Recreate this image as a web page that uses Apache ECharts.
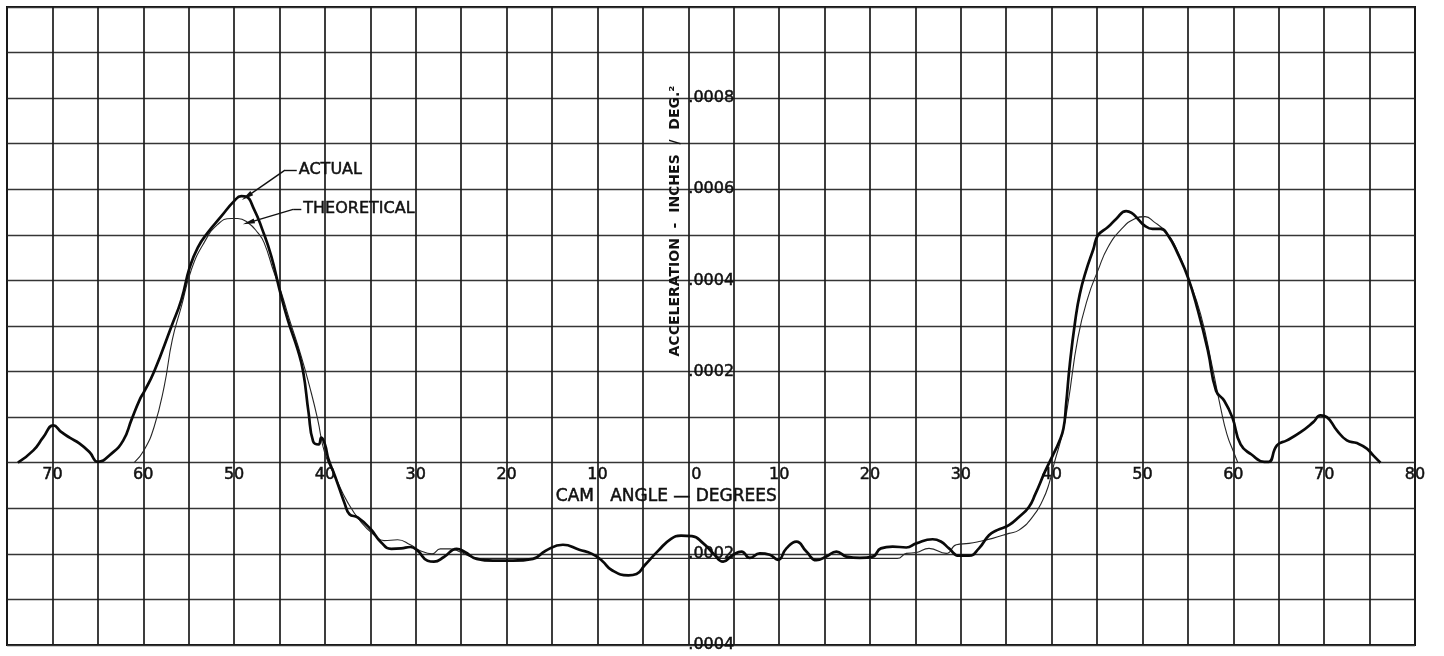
<!DOCTYPE html>
<html>
<head>
<meta charset="utf-8">
<script src="https://cdn.jsdelivr.net/npm/echarts@6/dist/echarts.min.js"></script>
<style>
  html, body { margin: 0; padding: 0; background: #ffffff; }
  #chart { width: 1444px; height: 656px; }
</style>
</head>
<body>
<div id="chart"></div>
<script>
// Cam angle in degrees (negative = before the zero position, labelled by magnitude)
const actualAngle = [
  -73.8, -72.1, -71.0, -69.9, -69.0, -68.1, -67.0, -65.9, -65.0, -63.5, -62.2, -61.3,
  -60.4, -59.9, -58.8, -56.9, -55.8, -54.9, -54.0, -52.9, -51.4, -50.0, -49.2, -48.7,
  -47.8, -46.9, -45.9, -45.0, -44.1, -43.0, -42.4, -41.8, -41.3, -40.7, -40.4, -40.0,
  -39.6, -38.9, -37.8, -37.3, -36.4, -35.0, -33.8, -32.7, -31.6, -30.6, -29.8, -28.7,
  -28.0, -26.9, -25.5, -24.6, -23.3, -21.5, -19.3, -17.1, -15.7, -13.8, -12.0, -10.6,
  -9.5, -8.4, -6.6, -5.7, -4.8, -3.3, -1.9, -0.8, 0.4, 1.65, 2.75, 3.84,
  4.94, 5.86, 6.77, 7.87, 8.97, 9.88, 10.8, 11.9, 13.0, 14.1, 15.2, 16.3,
  17.4, 18.9, 20.3, 21.2, 22.5, 24.0, 25.1, 26.9, 27.8, 28.7, 29.8, 30.9,
  32.0, 33.1, 34.0, 35.3, 36.4, 37.5, 38.2, 39.3, 40.1, 40.8, 41.3, 41.6,
  42.0, 42.6, 43.1, 43.8, 44.6, 45.1, 46.2, 47.1, 48.2, 48.8, 49.5, 50.2,
  51.1, 52.0, 52.8, 53.9, 55.0, 56.1, 57.2, 58.1, 59.0, 59.9, 60.8, 62.0,
  63.4, 63.9, 64.8, 65.9, 67.4, 68.8, 69.6, 70.3, 71.4, 72.5, 73.6, 74.7,
  75.4, 76.2
];
// Measured acceleration, in units of 0.0001 in/deg²
const actualAccel = [
  0.00, 0.27, 0.56, 0.82, 0.67, 0.55, 0.42, 0.23, 0.02, 0.20, 0.49, 0.94,
  1.38, 1.56, 2.00, 2.99, 3.58, 4.28, 4.72, 5.05, 5.41, 5.74, 5.85, 5.84,
  5.56, 5.12, 4.53, 3.80, 3.14, 2.48, 2.00, 1.10, 0.47, 0.40, 0.55, 0.40,
  0.07, -0.29, -0.91, -1.13, -1.20, -1.45, -1.75, -1.89, -1.88, -1.85, -1.93, -2.15,
  -2.17, -2.07, -1.89, -1.96, -2.11, -2.15, -2.15, -2.11, -1.93, -1.80, -1.91, -2.00,
  -2.15, -2.36, -2.47, -2.44, -2.25, -1.93, -1.67, -1.60, -1.61, -1.77, -1.99, -2.17,
  -2.02, -1.95, -2.09, -1.99, -2.02, -2.13, -1.88, -1.73, -1.95, -2.14, -2.06, -1.95,
  -2.06, -2.09, -2.06, -1.88, -1.84, -1.86, -1.77, -1.68, -1.73, -1.88, -2.04, -2.04,
  -1.88, -1.59, -1.48, -1.37, -1.19, -0.97, -0.69, -0.18, 0.15, 0.45, 0.75, 1.30,
  2.16, 3.12, 3.70, 4.22, 4.69, 4.99, 5.17, 5.35, 5.52, 5.48, 5.35, 5.21,
  5.13, 5.13, 4.99, 4.58, 4.07, 3.34, 2.46, 1.58, 1.36, 0.99, 0.40, 0.18,
  0.02, 0.02, 0.38, 0.49, 0.67, 0.89, 1.04, 1.00, 0.71, 0.49, 0.43, 0.31,
  0.16, 0.00
];
// Design (theoretical) curve
const theoAngle = [
  -61.0, -59.9, -58.8, -57.7, -56.8, -55.8, -54.7, -53.3, -51.8, -50.3, -49.6, -48.5,
  -47.4, -46.7, -45.6, -44.8, -43.9, -42.6, -41.5, -40.8, -40.0, -38.9, -37.5, -36.0,
  -34.5, -33.5, -32.0, -30.6, -29.5, -28.2, -27.3, -26.2, -25.1, -23.6, -22.5, 23.0,
  24.0, 25.1, 26.5, 28.4, 29.5, 30.9, 32.0, 33.5, 35.3, 36.4, 37.9, 39.0,
  39.7, 40.3, 41.2, 41.8, 42.9, 44.0, 45.1, 46.2, 47.7, 49.1, 50.3, 51.3,
  52.4, 53.5, 55.0, 56.4, 57.7, 58.6, 59.3, 60.0, 60.5
];
const theoAccel = [
  0.00, 0.28, 0.79, 1.67, 2.70, 3.43, 4.24, 4.83, 5.23, 5.36, 5.36, 5.27,
  5.05, 4.83, 4.17, 3.73, 3.14, 2.33, 1.53, 0.95, 0.20, -0.29, -0.87, -1.31,
  -1.60, -1.71, -1.69, -1.80, -1.93, -2.00, -1.89, -1.89, -1.96, -2.08, -2.10, -2.10,
  -1.99, -1.97, -1.88, -1.99, -1.80, -1.77, -1.73, -1.66, -1.55, -1.48, -1.19, -0.83,
  -0.47, 0.00, 0.65, 1.30, 2.75, 3.63, 4.22, 4.73, 5.13, 5.35, 5.40, 5.28,
  5.10, 4.80, 4.07, 3.26, 2.09, 1.21, 0.62, 0.25, 0.00
];

// Labelled ticks
const angleLabels = [-70, -60, -50, -40, -30, -20, -10, 0, 10, 20, 30, 40, 50, 60, 70, 80];
const accelLabels = [-4, -2, 2, 4, 6, 8];

const FONT = 'DejaVu Sans';
const INK = '#111111';
// a thin outline in the ink colour gives the lettering a pen-drawn weight
const PEN = { textBorderColor: INK, textBorderWidth: 0.5 };

const actualData = actualAngle.map((a, i) => [a, actualAccel[i]]);
const theoData = theoAngle.map((a, i) => [a, theoAccel[i]]);

const chart = echarts.init(document.getElementById('chart'), null, { renderer: 'canvas' });

function leader(tip, elbow, end, text) {
  return [
    [{ coord: tip, symbol: 'triangle', symbolSize: [5, 12] }, { coord: elbow, symbol: 'none' }],
    [{ coord: elbow, symbol: 'none' },
     { coord: end, symbol: 'none',
       label: Object.assign({ show: true, position: 'end', distance: 2, formatter: text,
                fontFamily: FONT, fontSize: 16, color: INK }, PEN) }]
  ];
}

chart.setOption({
  backgroundColor: '#ffffff',
  animation: false,
  grid: {
    left: 7, top: 7, right: 29, bottom: 11,
    show: true, borderColor: '#111', borderWidth: 2,
    outerBoundsMode: 'none'
  },
  xAxis: {
    type: 'value', min: -75, max: 80, interval: 5, position: 'bottom',
    axisLine: { show: false, onZero: false },
    axisTick: { show: false },
    splitLine: { show: true, lineStyle: { color: '#1c1c1c', width: 1.7 } },
    axisLabel: Object.assign({
      margin: 4, fontFamily: FONT, fontSize: 16, lineHeight: 16, color: INK,
      showMinLabel: true, showMaxLabel: true,
      formatter: v => {
        const r = Math.round(v);
        if (!angleLabels.includes(r)) return '';
        return r === 0 ? '{z|0}' : String(Math.abs(r));
      },
      rich: { z: Object.assign({ fontFamily: FONT, fontSize: 16, lineHeight: 16, color: INK, padding: [0, 0, 0, 16] }, PEN) }
    }, PEN)
  },
  yAxis: {
    type: 'value', min: -4, max: 10, interval: 1, position: 'left',
    axisLine: { show: false, onZero: false },
    axisTick: { show: false },
    splitLine: { show: true, lineStyle: { color: '#353535', width: 1.4 } },
    axisLabel: Object.assign({
      inside: true, margin: 0, fontFamily: FONT, fontSize: 16, color: INK,
      padding: [5, 0, 0, 0],
      showMinLabel: true, showMaxLabel: true,
      formatter: v => {
        const r = Math.round(v);
        if (!accelLabels.includes(r)) return '';
        return '.' + String(Math.abs(r)).padStart(4, '0');
      }
    }, PEN)
  },
  series: [
    {
      name: 'THEORETICAL', type: 'line', data: theoData,
      smooth: 0.5, showSymbol: false, silent: true,
      lineStyle: { color: '#262626', width: 1.1 },
      z: 3,
      markLine: {
        silent: true, animation: false,
        lineStyle: { color: INK, width: 1.4, type: 'solid' },
        data: leader([-48.4, 5.27], [-43.5, 5.56], [-42.6, 5.56], 'THEORETICAL')
      }
    },
    {
      name: 'ACTUAL', type: 'line', data: actualData,
      smooth: 0.5, showSymbol: false, silent: true,
      lineStyle: { color: '#0a0a0a', width: 2.7 },
      z: 4,
      markLine: {
        silent: true, animation: false,
        lineStyle: { color: INK, width: 1.4, type: 'solid' },
        data: leader([-48.6, 5.84], [-44.4, 6.42], [-43.1, 6.42], 'ACTUAL')
      }
    }
  ]
});

// Move both axes' tick labels onto the zero lines (the axes cross at the origin).
const origin = chart.convertToPixel({ gridIndex: 0 }, [0, 0]);
const corner = chart.convertToPixel({ gridIndex: 0 }, [-75, -4]);
chart.setOption({
  xAxis: { offset: origin[1] - corner[1] },
  yAxis: { offset: corner[0] - origin[0] },
  graphic: [
    {
      type: 'text', x: origin[0] - 6, y: 221, rotation: Math.PI / 2, silent: true,
      style: {
        text: 'ACCELERATION  -  INCHES  /  DEG.²',
        font: 'bold 14px "DejaVu Sans"', fill: INK,
        align: 'center', verticalAlign: 'bottom'
      }
    },
    {
      type: 'text', x: origin[0] - 22, y: origin[1] + 34, silent: true,
      style: {
        text: 'CAM   ANGLE — DEGREES',
        font: '17px "DejaVu Sans"', fill: INK, stroke: INK, lineWidth: 0.5,
        align: 'center', verticalAlign: 'middle'
      }
    }
  ]
});
</script>
</body>
</html>
